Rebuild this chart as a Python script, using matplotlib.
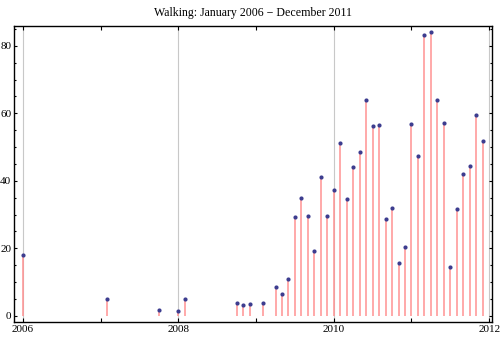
import matplotlib
matplotlib.use("Agg")
import matplotlib.pyplot as plt
from matplotlib.ticker import MultipleLocator

# monthly walking totals (year, month, value) -- months without data are left out
years = [2006, 2007, 2007, 2008, 2008, 2008, 2008, 2008,
         2009, 2009, 2009, 2009, 2009, 2009, 2009, 2009, 2009, 2009,
         2010, 2010, 2010, 2010, 2010, 2010, 2010, 2010, 2010, 2010, 2010, 2010,
         2011, 2011, 2011, 2011, 2011, 2011, 2011, 2011, 2011, 2011, 2011, 2011]
months = [1, 2, 10, 1, 2, 10, 11, 12,
          2, 4, 5, 6, 7, 8, 9, 10, 11, 12,
          1, 2, 3, 4, 5, 6, 7, 8, 9, 10, 11, 12,
          1, 2, 3, 4, 5, 6, 7, 8, 9, 10, 11, 12]
values = [18.0, 4.9, 1.7, 1.4, 4.9, 3.75, 3.2, 3.5,
          3.75, 8.5, 6.4, 10.9, 29.2, 34.8, 29.5, 19.1, 41.1, 29.5,
          37.2, 51.2, 34.5, 44.0, 48.5, 63.9, 56.2, 56.5, 28.6, 31.9, 15.6, 20.4,
          56.8, 47.3, 83.2, 84.1, 63.9, 57.1, 14.4, 31.6, 42.0, 44.4, 59.4, 51.7]

dates = [y + (m - 1) / 12 for y, m in zip(years, months)]

plt.rcParams["font.family"] = ["Liberation Serif", "DejaVu Serif"]

fig = plt.figure(figsize=(5.0, 3.37), dpi=100)
ax = fig.add_axes([0.028, 0.045, 0.955, 0.878])

# stems + points
ax.vlines(dates, 0, values, color="#ff9292", lw=1.1, zorder=2)
ax.plot(dates, values, "o", color="#3d3d8f", ms=3.0, mec="none", zorder=3)

ax.set_xlim(2005.884, 2012.03)
ax.set_ylim(-1.78, 85.9)

ax.xaxis.set_major_locator(MultipleLocator(2))
ax.xaxis.set_minor_locator(MultipleLocator(1))
ax.yaxis.set_major_locator(MultipleLocator(20))
ax.yaxis.set_minor_locator(MultipleLocator(5))
ax.grid(axis="x", which="major", color="#c8c8c8", lw=0.8, zorder=1)

ax.tick_params(which="both", direction="in", top=True, right=True,
               labelsize=8, width=0.8)
ax.tick_params(axis="x", which="both", length=3.2, pad=2.5)
ax.tick_params(axis="y", which="major", length=2.4, pad=2)
ax.tick_params(axis="y", which="minor", length=1.4)
for s in ax.spines.values():
    s.set_linewidth(1.0)

fig.text(0.505, 0.962, "Walking: January 2006 \u2212 December 2011",
         ha="center", va="center", fontsize=8.6)

plt.savefig("out.png", dpi=100)
